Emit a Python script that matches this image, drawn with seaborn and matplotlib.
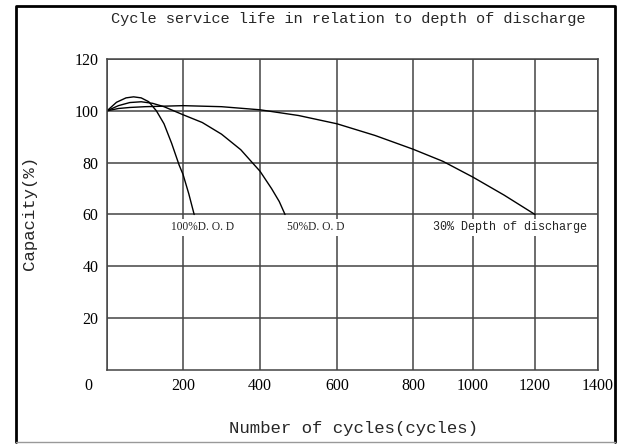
import numpy as np
import pandas as pd
import matplotlib
matplotlib.use("Agg")
import matplotlib.pyplot as plt
import matplotlib.transforms as mtrans
from matplotlib.lines import Line2D
import seaborn as sns

sns.set_theme(style="white")
plt.rcParams["font.family"] = ["Liberation Mono", "DejaVu Sans Mono"]

# curve readings (cycles, capacity %)
dod100_x = [0, 25, 50, 70, 90, 110, 130, 150, 170, 190, 200, 215, 229]
dod100_y = [100, 103.3, 105, 105.4, 105, 103.5, 100, 95, 87.5, 79, 75.5, 68, 60]
dod50_x = [0, 30, 60, 90, 120, 150, 200, 250, 300, 350, 380, 400, 430, 450, 465]
dod50_y = [100, 102, 103.2, 103.5, 102.9, 101.6, 98.5, 95.5, 91, 85, 80, 76.7, 70, 65, 60]
dod30_x = [0, 30, 60, 100, 200, 300, 400, 500, 600, 700, 800, 900, 1000, 1100, 1200]
dod30_y = [100, 100.9, 101.3, 101.6, 102, 101.6, 100.4, 98.2, 95, 90.5, 85.2, 80.5, 74.4, 67.5, 60]

# the printed x axis is not evenly spaced
x_ticks = [0, 200, 400, 600, 800, 1000, 1200, 1400]
x_pos = [0, 76, 153, 230, 306, 366, 428, 491]
y_ticks = [20, 40, 60, 80, 100, 120]

labels = ["100%D. O. D", "50%D. O. D", "30% Depth of discharge"]
label_x = [250, 545, 1119]
label_y = [55, 55, 55]

df = pd.concat([
    pd.DataFrame({"cycles": dod100_x, "capacity": dod100_y, "dod": labels[0]}),
    pd.DataFrame({"cycles": dod50_x, "capacity": dod50_y, "dod": labels[1]}),
    pd.DataFrame({"cycles": dod30_x, "capacity": dod30_y, "dod": labels[2]}),
])

fig = plt.figure(figsize=(6.21, 4.44), dpi=100)
ax = fig.add_axes([0.1723, 0.1667, 0.7907, 0.7004])

def fwd(v):
    return np.interp(v, x_ticks, x_pos)

def inv(p):
    return np.interp(p, x_pos, x_ticks)

ax.set_xscale("function", functions=(fwd, inv))

sns.lineplot(data=df, x="cycles", y="capacity", hue="dod", palette=["black"] * 3,
             legend=False, linewidth=1.0, ax=ax, sort=False, estimator=None)

ax.set_xlim(0, 1400)
ax.set_ylim(0, 120)
ax.set_xticks(x_ticks)
ax.set_xticklabels([str(t) for t in x_ticks], family="Liberation Serif", fontsize=11.5)
ax.set_yticks(y_ticks)
ax.set_yticklabels([str(t) for t in y_ticks], family="Liberation Serif", fontsize=11.5)
ax.tick_params(length=0, pad=6, colors="black")
ax.grid(True, color="#444444", linewidth=1.1)
ax.set_axisbelow(True)
for s in ax.spines.values():
    s.set_color("#444444")
    s.set_linewidth(1.1)

# the corner "0" sits left of the axis
lab0 = ax.get_xticklabels()[0]
lab0.set_transform(lab0.get_transform() + mtrans.ScaledTranslation(-0.19, 0, fig.dpi_scale_trans))

fams = ["Liberation Serif", "Liberation Serif", "Liberation Mono"]
sizes = [8.3, 8.3, 8.5]
for t, lx, ly, fam, fs in zip(labels, label_x, label_y, fams, sizes):
    ax.text(lx, ly, t, ha="center", va="center", fontsize=fs, family=fam, color="#222222",
            bbox=dict(facecolor="white", edgecolor="none", pad=1.5), zorder=3)

ax.set_xlabel("")
ax.set_ylabel("")
fig.text(0.570, 0.036, "Number of cycles(cycles)", ha="center", va="center", fontsize=12.5)
fig.text(0.047, 0.52, "Capacity(%)", ha="center", va="center", rotation=90, fontsize=12.5)
fig.text(0.560, 0.957, "Cycle service life in relation to depth of discharge",
         ha="center", va="center", fontsize=11)

# page frame
fl, fr, fb, ft = 16 / 621, 615 / 621, 2 / 444, 1 - 6 / 444
fig.add_artist(Line2D([fl, fl, fr, fr], [fb, ft, ft, fb], color="black", linewidth=2,
                      transform=fig.transFigure))
fig.add_artist(Line2D([fl, fr], [fb, fb], color="#999999", linewidth=1,
                      transform=fig.transFigure))

fig.savefig("out.png", dpi=100)
